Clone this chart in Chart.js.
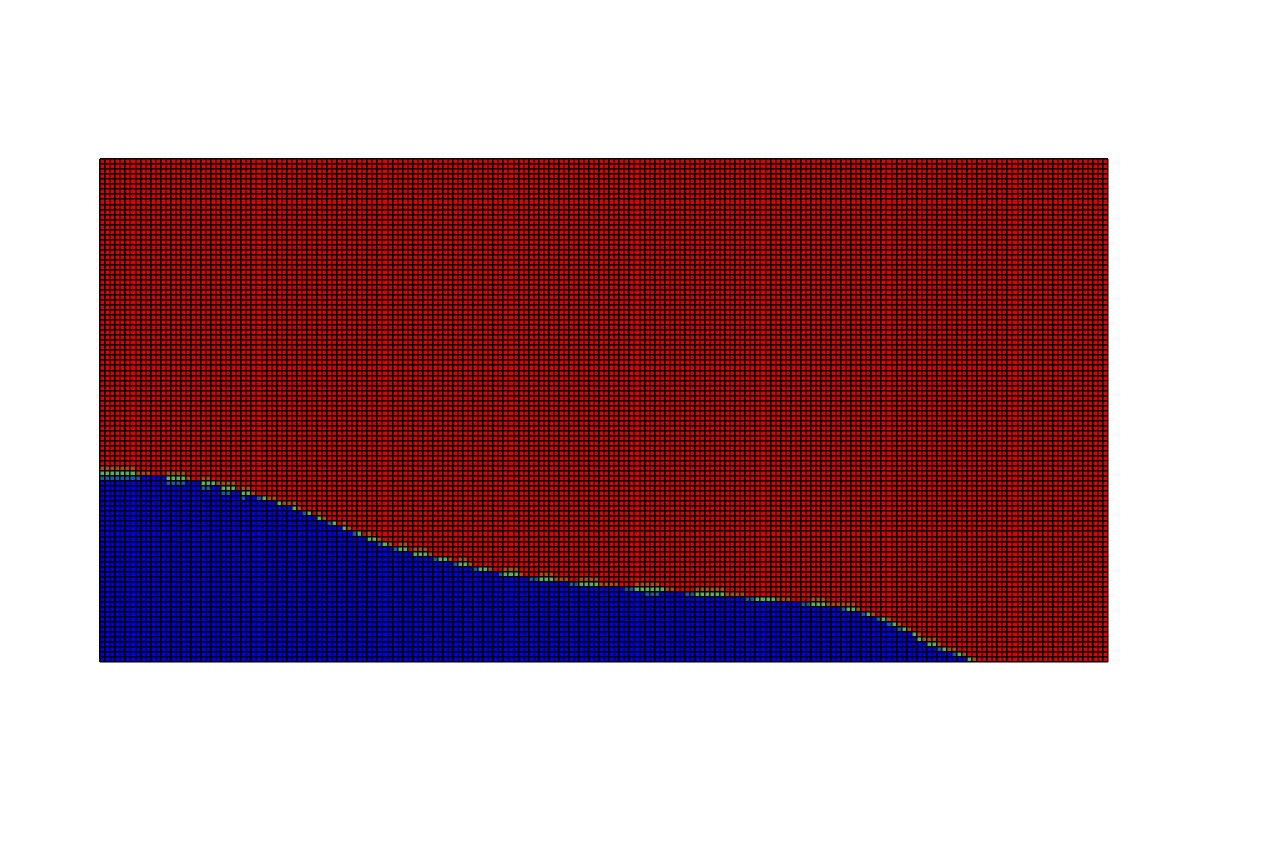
<!DOCTYPE html>
<html>

<head>
  <meta charset="utf-8">
  <title>Grid</title>
  <script src="https://cdn.jsdelivr.net/npm/chart.js@4/dist/chart.umd.min.js"></script>
  <style>
    body { margin: 0; background: #fff; }
  </style>
</head>

<body>
  <canvas id="myChart" width="1287" height="857"></canvas>

  <script>
    const columns = Array.from({ length: 200 }, (_, i) => i);

    // solid blue cells, counted from the bottom, column by column
    const blueRows = [
      36, 36, 36, 36, 36, 36, 36, 36, 37, 37,
      37, 37, 37, 35, 35, 35, 35, 36, 36, 36,
      34, 34, 35, 35, 33, 33, 34, 34, 32, 33,
      33, 32, 32, 32, 32, 31, 31, 31, 30, 30,
      29, 29, 29, 28, 28, 27, 27, 27, 26, 26,
      25, 25, 25, 24, 24, 23, 23, 23, 22, 22,
      22, 22, 21, 21, 21, 21, 20, 20, 20, 20,
      19, 19, 19, 19, 18, 18, 18, 18, 18, 17,
      17, 17, 17, 17, 17, 16, 16, 16, 16, 16,
      16, 16, 16, 15, 15, 15, 15, 15, 15, 15,
      15, 15, 15, 15, 14, 14, 14, 14, 13, 13,
      13, 14, 14, 14, 14, 14, 13, 13, 13, 13,
      13, 13, 13, 13, 13, 13, 13, 13, 12, 12,
      12, 12, 12, 12, 12, 12, 12, 12, 12, 11,
      11, 11, 11, 11, 11, 11, 11, 10, 10, 10,
      10, 9, 9, 9, 8, 8, 7, 7, 6, 6,
      6, 5, 4, 4, 3, 3, 2, 2, 2, 1,
      1, 1, 0, 0, 0, 0, 0, 0, 0, 0,
      0, 0, 0, 0, 0, 0, 0, 0, 0, 0,
      0, 0, 0, 0, 0, 0, 0, 0, 0, 0
    ];

    // columns that have one cell of each in-between colour on top of the blue
    const tealColumns = [0, 1, 2, 3, 4, 5, 6, 7, 13, 14, 15, 16, 20, 21, 24, 25, 28, 31, 40, 45, 50, 55, 58, 66, 70, 74, 79, 85, 86, 93, 94, 104, 105, 108, 109, 110, 116, 117, 128, 129, 139, 140, 147, 151, 154, 156, 158, 166, 169];
    const greenColumns = [0, 1, 2, 3, 4, 5, 6, 13, 14, 15, 16, 20, 21, 22, 24, 25, 26, 28, 29, 32, 35, 38, 41, 43, 46, 48, 51, 53, 54, 56, 59, 60, 62, 63, 64, 67, 68, 71, 72, 75, 76, 80, 81, 82, 87, 88, 89, 95, 96, 97, 98, 106, 107, 108, 109, 110, 111, 118, 119, 120, 121, 122, 123, 130, 131, 132, 133, 141, 142, 143, 148, 149, 152, 155, 157, 159, 161, 162, 164, 165, 167, 170, 172];
    const orangeColumns = [0, 1, 2, 3, 4, 5, 6, 7, 8, 9, 13, 14, 15, 16, 17, 20, 21, 23, 24, 25, 26, 28, 29, 30, 33, 34, 36, 37, 38, 39, 43, 44, 48, 49, 53, 55, 57, 59, 60, 62, 63, 64, 65, 69, 71, 72, 73, 77, 80, 81, 82, 83, 87, 88, 89, 90, 91, 92, 95, 96, 97, 98, 99, 100, 101, 102, 106, 107, 108, 109, 110, 112, 113, 118, 119, 120, 121, 122, 123, 124, 125, 126, 127, 134, 135, 136, 141, 142, 143, 144, 145, 146, 147, 148, 149, 150, 153, 156, 158, 160, 162, 163, 164, 165, 166, 168, 169, 171, 173];

    const totalRows = 100;
    const tealRows = columns.map(c => tealColumns.includes(c) ? 1 : 0);
    const greenRows = columns.map(c => greenColumns.includes(c) ? 1 : 0);
    const orangeRows = columns.map(c => orangeColumns.includes(c) ? 1 : 0);
    const redRows = columns.map((c, i) => totalRows - blueRows[i] - tealRows[i] - greenRows[i] - orangeRows[i]);

    function layer(label, data, color) {
      return {
        label: label,
        data: data,
        backgroundColor: color,
        borderWidth: 0,
        barPercentage: 1,
        categoryPercentage: 1
      };
    }

    const ctx = document.getElementById('myChart').getContext('2d');
    const myChart = new Chart(ctx, {
      type: 'bar',
      data: {
        labels: columns,
        datasets: [
          layer('blue', blueRows, '#0000e0'),
          layer('teal', tealRows, '#1a5aa8'),
          layer('green', greenRows, '#58b060'),
          layer('orange', orangeRows, '#b04a10'),
          layer('red', redRows, '#dc0000')
        ]
      },
      options: {
        responsive: false,
        animation: false,
        layout: { padding: { left: 100, top: 159, right: 179, bottom: 195 } },
        plugins: { legend: { display: false }, tooltip: { enabled: false } },
        scales: {
          x: {
            stacked: true,
            border: { display: false },
            grid: { color: '#000', lineWidth: 1.5, drawTicks: false, z: 1 },
            ticks: { display: false, autoSkip: false }
          },
          y: {
            stacked: true,
            min: 0,
            max: totalRows,
            border: { display: false },
            grid: { color: '#000', lineWidth: 1.5, drawTicks: false, z: 1 },
            ticks: { display: false, stepSize: 1, autoSkip: false, maxTicksLimit: 101 }
          }
        }
      }
    });
  </script>

</body>

</html>
